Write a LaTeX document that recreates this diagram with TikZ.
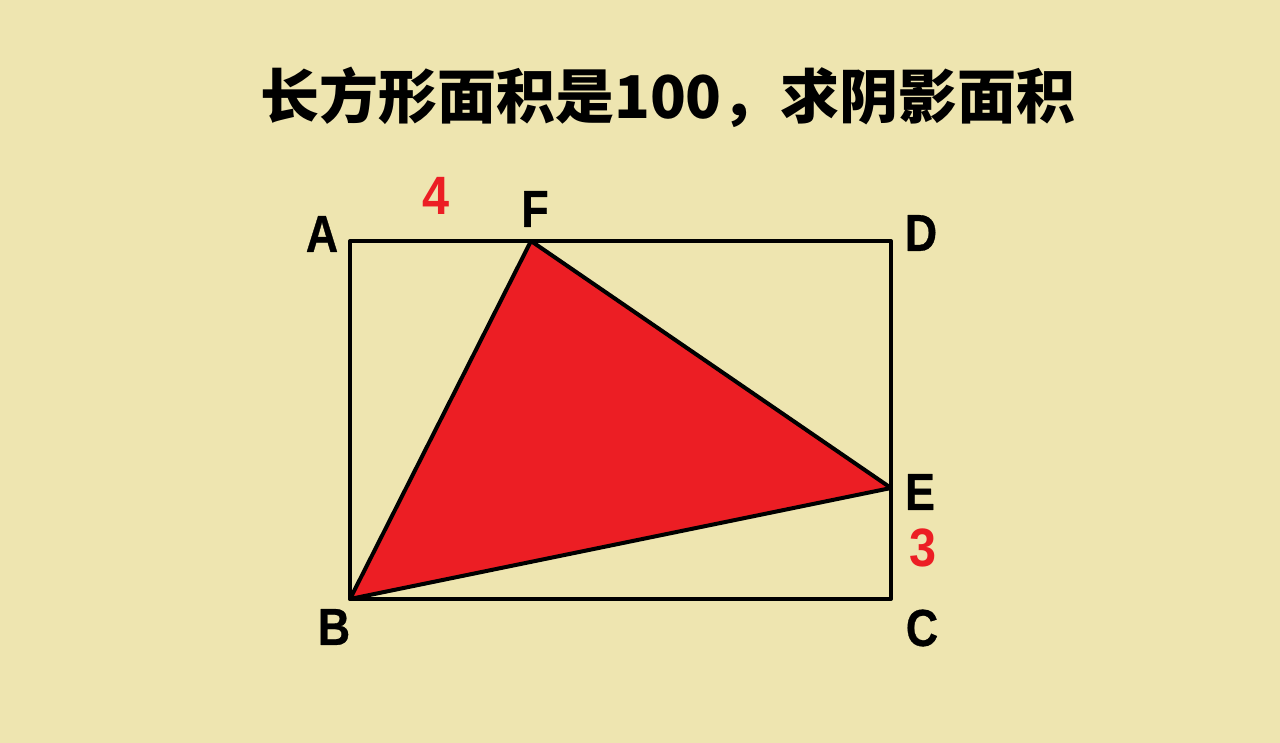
\documentclass[tikz,border=0pt]{standalone}
\usepackage{fontspec}
\setmainfont{Liberation Sans}
\newfontfamily\cjk{Noto Sans CJK SC}
\newfontfamily\lab{Liberation Sans}[FakeStretch=0.86, BoldFeatures={FakeBold=0.6}]
\newfontfamily\num{Liberation Sans}[FakeStretch=0.9]
\usepackage{xcolor}
\usetikzlibrary{positioning}

\definecolor{paper}{RGB}{238,229,176}
\definecolor{shade}{RGB}{236,30,36}

\begin{document}
\begin{tikzpicture}[
    x=1pt, y=-1pt,
    line width=4pt,
    line join=round,
    vertex/.style={
      font=\lab\bfseries\fontsize{52}{52}\selectfont,
      inner sep=0pt
    },
    length/.style={
      font=\num\bfseries\fontsize{54}{54}\selectfont,
      text=shade,
      inner sep=0pt
    }
]

% 1. BACKGROUND
\fill[paper] (0,0) rectangle (1280,743);
\useasboundingbox (0,0) rectangle (1280,743);

% 2. POINTS
\coordinate (A) at (350,241);
\coordinate (D) at (891,241);
\coordinate (C) at (891,599);
\coordinate (B) at (350,599);
\coordinate (F) at (531,241);
\coordinate (E) at (891,488);

% 3. SHAPES
\filldraw[fill=shade, draw=black] (B) -- (F) -- (E) -- cycle;
\draw (A) -- (D) -- (C) -- (B) -- cycle;

% 4. LABELS
\node[inner sep=0pt, font=\cjk\bfseries\fontsize{59}{59}\selectfont] (title) at (668,97)
    {长方形面积是100，求阴影面积};

\node[vertex] (labA) at (322,234) {A};
\node[vertex] (labF) at (535,209) {F};
\node[vertex] (labD) at (921,233) {D};
\node[vertex] (labE) at (920,492) {E};
\node[vertex] (labC) at (922,628) {C};
\node[vertex] (labB) at (334,627) {B};

\node[length] (lenAF) at (436,196) {4};
\node[length] (lenEC) at (923,548) {3};

\end{tikzpicture}
\end{document}
